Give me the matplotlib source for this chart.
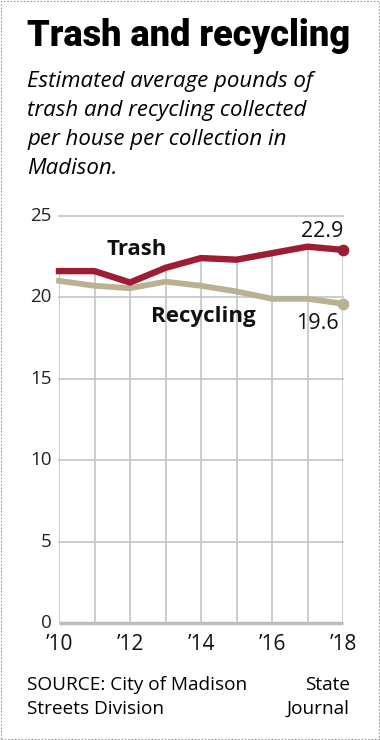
import matplotlib
matplotlib.use("Agg")
import matplotlib.pyplot as plt
from matplotlib.patches import Rectangle

years = [2010, 2011, 2012, 2013, 2014, 2015, 2016, 2017, 2018]
trash = [21.6, 21.6, 20.9, 21.8, 22.4, 22.3, 22.7, 23.1, 22.9]
recycling = [21.0, 20.7, 20.55, 20.95, 20.7, 20.35, 19.9, 19.9, 19.6]
yticks = [0, 5, 10, 15, 20, 25]
xticks = [2010, 2012, 2014, 2016, 2018]
xlabels = ["\u201910", "\u201912", "\u201914", "\u201916", "\u201918"]

TRASH_C = "#9f1c35"
RECYC_C = "#bab192"
GRID_C = "#c8c8c8"
W, H = 380, 740


def fx(px):
    return px / W


def fy(py):
    return 1 - py / H


fig = plt.figure(figsize=(3.8, 7.4), dpi=100)
fig.patch.set_facecolor("white")
fig.add_artist(Rectangle((0.002, 0.001), 0.996, 0.998, transform=fig.transFigure,
                         fill=False, ec="#9a9a9a", lw=0.8, ls=(0, (1.5, 1.5))))

# header
fig.text(fx(27), fy(46), "Trash and recycling", fontsize=26, fontweight=900,
         family="Roboto", va="baseline", ha="left")
sub = ["Estimated average pounds of", "trash and recycling collected",
       "per house per collection in", "Madison."]
for i, line in enumerate(sub):
    fig.text(fx(27), fy(87 + i * 29), line, fontsize=16, style="italic",
             family="Open Sans", va="baseline", ha="left")

ax = fig.add_axes([fx(59), fy(623), fx(343) - fx(59), fy(215.7) - fy(623)])
ax.set_xlim(2010, 2018)
ax.set_ylim(0, 25)
for s in ax.spines.values():
    s.set_visible(False)
ax.set_xticks([])
ax.set_yticks([])

for v in yticks[1:]:
    ax.plot([2010, 2018], [v, v], color=GRID_C, lw=1.3, zorder=1, clip_on=False)
ax.vlines(years, 0, trash, color=GRID_C, lw=1.3, zorder=1)
ax.plot([2010, 2018], [0, 0], color="#bdbdbd", lw=2.5, zorder=2, clip_on=False,
        solid_capstyle="butt")

ax.plot(years, recycling, color=RECYC_C, lw=4.2, zorder=3, clip_on=False,
        solid_joinstyle="round")
ax.plot(years, trash, color=TRASH_C, lw=4.6, zorder=4, clip_on=False,
        solid_joinstyle="round")
ax.scatter([years[-1]], [recycling[-1]], s=55, color=RECYC_C, zorder=5, clip_on=False)
ax.scatter([years[-1]], [trash[-1]], s=55, color=TRASH_C, zorder=5, clip_on=False)

for v in yticks:
    ax.text(2010 - 0.2, v, str(v), ha="right", va="center", fontsize=13.5,
            family="Open Sans", color="#222222")
for x, lab in zip(xticks, xlabels):
    ax.text(x, -1.3, lab, ha="center", va="center", fontsize=15,
            family="Open Sans", color="#111111")

ax.text(2012.2, 22.9, "Trash", ha="center", va="center", fontsize=16,
        fontweight="bold", family="Open Sans", color="#111111")
ax.text(2014.06, 18.8, "Recycling", ha="center", va="center", fontsize=16,
        fontweight="bold", family="Open Sans", color="#111111")
ax.text(2017.42, 24.0, f"{trash[-1]:.1f}", ha="center", va="center",
        fontsize=15.5, family="Open Sans", color="#111111")
ax.text(2017.28, 18.4, f"{recycling[-1]:.1f}", ha="center",
        va="center", fontsize=15.5, family="Open Sans", color="#111111")

fig.text(fx(27), fy(690), "SOURCE: City of Madison", fontsize=13.7,
         family="Open Sans", va="baseline", ha="left")
fig.text(fx(27), fy(714), "Streets Division", fontsize=13.7,
         family="Open Sans", va="baseline", ha="left")
fig.text(fx(350), fy(690), "State", fontsize=13.7,
         family="Open Sans", va="baseline", ha="right")
fig.text(fx(350), fy(714), "Journal", fontsize=13.7,
         family="Open Sans", va="baseline", ha="right")

fig.savefig("out.png", dpi=100)
